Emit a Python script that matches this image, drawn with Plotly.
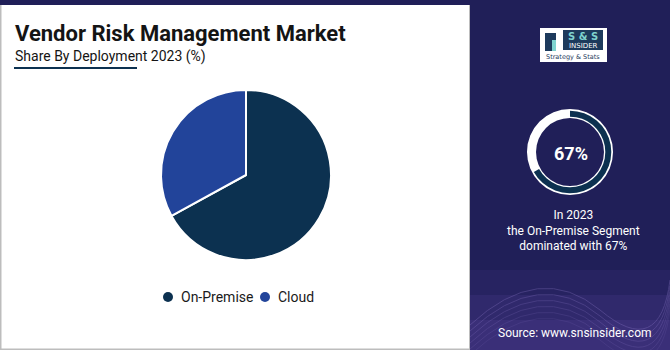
import plotly.graph_objects as go

# ---- data ----
segments = ["On-Premise", "Cloud"]
shares = [67, 33]
segment_colors = ["#0c3150", "#22449a"]

highlight_year = "2023"
highlight_segment = "On-Premise"
highlight_share = 67

title_text = "Vendor Risk Management Market"
subtitle_text = "Share By Deployment 2023 (%)"
source_text = "Source: www.snsinsider.com"

W, H = 670, 350
BG = "#201f58"


def px(x):
    return x / W


def py(y):
    return 1 - y / H


def circle_domain(cx, cy, r):
    return dict(x=[px(cx - r), px(cx + r)], y=[py(cy + r), py(cy - r)])


fig = go.Figure()

# main pie
fig.add_trace(go.Pie(
    labels=segments, values=shares,
    marker=dict(colors=segment_colors, line=dict(color="white", width=2)),
    sort=False, direction="clockwise", rotation=0,
    textinfo="none", hoverinfo="label+percent",
    domain=circle_domain(246, 175, 85), showlegend=False,
))

# highlight ring: white track + dark progress arc
fig.add_trace(go.Pie(
    values=[1], marker=dict(colors=["white"], line=dict(width=0)),
    hole=0.79, textinfo="none", hoverinfo="skip", sort=False,
    domain=circle_domain(570, 152, 43), showlegend=False,
))
fig.add_trace(go.Pie(
    values=[highlight_share, 100 - highlight_share],
    marker=dict(colors=["#0c3150", "rgba(0,0,0,0)"], line=dict(width=0)),
    hole=0.855, textinfo="none", hoverinfo="skip", sort=False,
    direction="clockwise", rotation=0,
    domain=circle_domain(570, 152, 41.3), showlegend=False,
))

shapes = []
annotations = []

# white left panel with thin grey edges
shapes.append(dict(type="rect", xref="paper", yref="paper", layer="below",
                   x0=px(0), x1=px(470), y0=py(350), y1=py(5),
                   fillcolor="#bdbdbd", line=dict(width=0)))
shapes.append(dict(type="rect", xref="paper", yref="paper", layer="below",
                   x0=px(1.5), x1=px(469), y0=py(348.5), y1=py(5),
                   fillcolor="white", line=dict(width=0)))

# soft purple glow and waves at the lower right
for y0, op in [(270, 0.10), (295, 0.14), (320, 0.18)]:
    shapes.append(dict(type="rect", xref="paper", yref="paper", layer="below",
                       x0=px(470), x1=px(670), y0=py(350), y1=py(y0),
                       fillcolor="#6a4bb0", opacity=op, line=dict(width=0)))
wave_offsets = [0, 6, 12, 18, 24, 30]
for i, off in enumerate(wave_offsets):
    ya = 300 + off
    path = (f"M {px(470)},{py(ya + 25)} "
            f"Q {px(540)},{py(ya - 40)} {px(600)},{py(ya + 10)} "
            f"T {px(670)},{py(ya - 20)}")
    shapes.append(dict(type="path", xref="paper", yref="paper", layer="below",
                       path=path, line=dict(color="#a58ee0", width=1),
                       opacity=0.25 - i * 0.03))

# title, subtitle, underline
annotations.append(dict(x=px(13), y=py(33), xref="paper", yref="paper",
                        xanchor="left", yanchor="middle", showarrow=False,
                        text=f"<b>{title_text}</b>",
                        font=dict(family="Roboto", size=22, color="#141414")))
annotations.append(dict(x=px(13), y=py(57), xref="paper", yref="paper",
                        xanchor="left", yanchor="middle", showarrow=False,
                        text=subtitle_text,
                        font=dict(family="Roboto", size=14, color="#141414")))
shapes.append(dict(type="line", xref="paper", yref="paper",
                   x0=px(14), x1=px(137), y0=py(68), y1=py(68),
                   line=dict(color="#0c3150", width=2)))

# legend built from the segment list
legend_x = [168, 265]
for name, col, lx in zip(segments, segment_colors, legend_x):
    r = 5
    shapes.append(dict(type="circle", xref="paper", yref="paper",
                       x0=px(lx - r), x1=px(lx + r), y0=py(297 + r), y1=py(297 - r),
                       fillcolor=col, line=dict(width=0)))
    annotations.append(dict(x=px(lx + 11), y=py(297), xref="paper", yref="paper",
                            xanchor="left", yanchor="middle", showarrow=False,
                            text=name,
                            font=dict(family="Roboto", size=14, color="#1a1a1a")))

# right panel texts
annotations.append(dict(x=px(571), y=py(153), xref="paper", yref="paper",
                        xanchor="center", yanchor="middle", showarrow=False,
                        text=f"<b>{highlight_share}%</b>",
                        font=dict(family="Roboto", size=18, color="white")))
annotations.append(dict(x=px(573), y=py(230), xref="paper", yref="paper",
                        xanchor="center", yanchor="middle", showarrow=False,
                        text=(f"In {highlight_year}<br>the {highlight_segment} Segment"
                              f"<br>dominated with {highlight_share}%"),
                        align="center",
                        font=dict(family="Roboto", size=12, color="white")))
annotations.append(dict(x=px(575), y=py(333), xref="paper", yref="paper",
                        xanchor="center", yanchor="middle", showarrow=False,
                        text=source_text,
                        font=dict(family="Roboto", size=12, color="white")))

# logo badge
shapes.append(dict(type="rect", xref="paper", yref="paper",
                   x0=px(540), x1=px(607), y0=py(62), y1=py(28),
                   fillcolor="white", line=dict(width=0)))
shapes.append(dict(type="rect", xref="paper", yref="paper",
                   x0=px(545), x1=px(556), y0=py(51), y1=py(33),
                   fillcolor="#1d3a5c", line=dict(width=0)))
shapes.append(dict(type="rect", xref="paper", yref="paper",
                   x0=px(552), x1=px(556), y0=py(51), y1=py(40),
                   fillcolor="#7fd3cf", line=dict(width=0)))
shapes.append(dict(type="rect", xref="paper", yref="paper",
                   x0=px(563), x1=px(603), y0=py(50), y1=py(30),
                   fillcolor="#1d3a5c", line=dict(width=0)))
annotations.append(dict(x=px(583), y=py(36.5), xref="paper", yref="paper",
                        xanchor="center", yanchor="middle", showarrow=False,
                        text="<b>S & S</b>",
                        font=dict(family="DejaVu Sans", size=10, color="#7fd3cf")))
annotations.append(dict(x=px(583), y=py(46), xref="paper", yref="paper",
                        xanchor="center", yanchor="middle", showarrow=False,
                        text="INSIDER",
                        font=dict(family="DejaVu Sans", size=7, color="white")))
annotations.append(dict(x=px(573), y=py(57), xref="paper", yref="paper",
                        xanchor="center", yanchor="middle", showarrow=False,
                        text="Strategy & Stats",
                        font=dict(family="DejaVu Sans", size=6.5, color="#1d3a5c")))

fig.update_layout(
    width=W, height=H,
    margin=dict(l=0, r=0, t=0, b=0),
    paper_bgcolor=BG, plot_bgcolor=BG,
    shapes=shapes, annotations=annotations,
    showlegend=False,
)

fig.write_html("out.html")
